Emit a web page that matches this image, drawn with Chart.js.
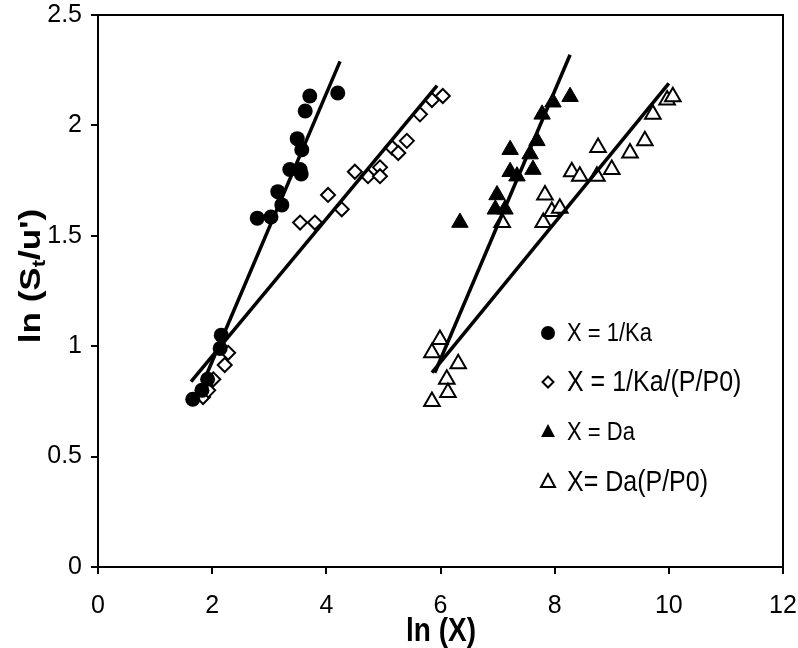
<!DOCTYPE html>
<html>
<head>
<meta charset="utf-8">
<title>ln(St/u') vs ln(X)</title>
<script src="https://cdn.jsdelivr.net/npm/chart.js@4.4.1/dist/chart.umd.min.js"></script>
<style>
  html, body { margin: 0; padding: 0; background: #fff; }
  #wrap { width: 798px; height: 648px; }
</style>
</head>
<body>
<div id="wrap"><canvas id="lnChart" width="798" height="648"></canvas></div>
<script>
// axis ticks
var xTicks = [0, 2, 4, 6, 8, 10, 12];
var yTicks = [0, 0.5, 1, 1.5, 2, 2.5];

// X = 1/Ka  (filled circles)
var kaX = [1.66, 1.82, 1.92, 2.14, 2.16, 2.79, 3.03, 3.15, 3.22, 3.36, 3.49, 3.54, 3.56, 3.57, 3.63, 3.71, 4.20];
var kaY = [0.76, 0.80, 0.85, 0.99, 1.05, 1.58, 1.585, 1.70, 1.64, 1.80, 1.94, 1.80, 1.78, 1.89, 2.065, 2.133, 2.147];

// X = 1/Ka/(P/P0)  (open diamonds)
var kaPX = [1.84, 1.93, 2.02, 2.22, 2.28, 3.54, 3.80, 4.03, 4.27, 4.50, 4.73, 4.94, 4.94, 5.15, 5.26, 5.41, 5.64, 5.85, 6.04];
var kaPY = [0.77, 0.80, 0.85, 0.915, 0.97, 1.56, 1.56, 1.685, 1.62, 1.79, 1.77, 1.81, 1.77, 1.90, 1.875, 1.93, 2.05, 2.115, 2.133];

// X = Da  (filled triangles)
var daX = [6.34, 6.96, 7.13, 6.99, 7.22, 7.34, 7.22, 7.62, 7.57, 7.69, 7.78, 7.97, 8.27];
var daY = [1.56, 1.62, 1.62, 1.685, 1.79, 1.77, 1.89, 1.80, 1.87, 1.93, 2.05, 2.105, 2.13];

// X = Da(P/P0)  (open triangles)
var daPX = [5.85, 5.85, 5.99, 6.11, 6.13, 6.31, 7.08, 7.80, 7.83, 7.95, 8.09, 8.30, 8.44, 8.74, 8.76, 9.00, 9.32, 9.58, 9.72, 9.97, 10.07];
var daPY = [0.75, 0.97, 1.03, 0.85, 0.79, 0.92, 1.56, 1.56, 1.685, 1.61, 1.625, 1.79, 1.77, 1.77, 1.90, 1.80, 1.875, 1.93, 2.05, 2.115, 2.13];

// fitted lines (end points)
var fitKaX = [1.85, 4.24],  fitKaY = [0.84, 2.29];
var fitKaPX = [1.63, 5.94], fitKaPY = [0.84, 2.18];
var fitDaX = [5.90, 8.27],  fitDaY = [0.88, 2.32];
var fitDaPX = [5.85, 10.0], fitDaPY = [0.88, 2.19];

var legendLabels = ['X = 1/Ka', 'X = 1/Ka/(P/P0)', 'X = Da', 'X= Da(P/P0)'];

function pts(xs, ys) {
  return xs.map(function (x, i) { return { x: x, y: ys[i] }; });
}

function fitLine(xs, ys) {
  return {
    type: 'line', data: pts(xs, ys), borderColor: '#000', borderWidth: 3.5,
    pointRadius: 0, fill: false, order: 0
  };
}

var FONT = '"Liberation Sans", Arial, sans-serif';

// draw text stretched like the original picture
function stretchText(ctx, parts, cx, cy, rot, sx, sy) {
  ctx.save();
  ctx.translate(cx, cy);
  ctx.rotate(rot);
  ctx.scale(sx, sy);
  ctx.fillStyle = '#000';
  ctx.textBaseline = 'alphabetic';
  ctx.textAlign = 'left';
  var total = 0;
  parts.forEach(function (p) { ctx.font = p.font; total += ctx.measureText(p.t).width; });
  var x = -total / 2;
  parts.forEach(function (p) {
    ctx.font = p.font;
    ctx.fillText(p.t, x, p.dy || 0);
    x += ctx.measureText(p.t).width;
  });
  ctx.restore();
}

function marker(ctx, kind, x, y) {
  ctx.save();
  ctx.fillStyle = '#000';
  ctx.strokeStyle = '#000';
  ctx.lineWidth = 2;
  ctx.beginPath();
  if (kind === 'circle') {
    ctx.arc(x, y, 7, 0, Math.PI * 2);
    ctx.fill();
  } else if (kind === 'diamond') {
    ctx.moveTo(x, y - 5.5); ctx.lineTo(x + 5.5, y); ctx.lineTo(x, y + 5.5); ctx.lineTo(x - 5.5, y);
    ctx.closePath();
    ctx.fillStyle = '#fff'; ctx.fill(); ctx.stroke();
  } else {
    ctx.moveTo(x, y - 8); ctx.lineTo(x + 7, y + 5); ctx.lineTo(x - 7, y + 5);
    ctx.closePath();
    if (kind === 'tri') { ctx.fill(); } else { ctx.fillStyle = '#fff'; ctx.fill(); ctx.stroke(); }
  }
  ctx.restore();
}

// no extra room for overflowing tick labels, the layout padding does it
function noOverflow(s) {
  s.paddingLeft = 0; s.paddingRight = 0; s.paddingTop = 0; s.paddingBottom = 0;
}

var decorPlugin = {
  id: 'decor',
  afterDraw: function (chart) {
    var ctx = chart.ctx, a = chart.chartArea;
    // top and right frame
    ctx.save();
    ctx.strokeStyle = '#000';
    ctx.lineWidth = 2;
    ctx.beginPath();
    ctx.moveTo(a.left, a.top); ctx.lineTo(a.right, a.top); ctx.lineTo(a.right, a.bottom);
    ctx.stroke();
    ctx.restore();

    // axis titles
    var b = 'bold 28px ' + FONT;
    stretchText(ctx, [{ t: 'ln (X)', font: b }], 441, 641, 0, 1, 1.2);
    stretchText(ctx, [
      { t: 'ln (S', font: b },
      { t: 't', font: 'bold 18px ' + FONT, dy: 5 },
      { t: "/u')", font: b }
    ], 40, 276, -Math.PI / 2, 1.25, 1.05);

    // legend
    var kinds = ['circle', 'diamond', 'tri', 'triOpen'];
    var rows = [333, 382, 432, 482];
    var sizes = [22, 25, 22, 25];
    kinds.forEach(function (k, i) {
      marker(ctx, k, 548, rows[i]);
      ctx.save();
      ctx.translate(567, rows[i]);
      ctx.scale(1, 1.15);
      ctx.font = sizes[i] + 'px ' + FONT;
      ctx.fillStyle = '#000';
      ctx.textAlign = 'left';
      ctx.textBaseline = 'middle';
      ctx.fillText(legendLabels[i], 0, 1);
      ctx.restore();
    });
  }
};

var ctx = document.getElementById('lnChart').getContext('2d');
var chart = new Chart(ctx, {
  type: 'scatter',
  data: {
    datasets: [
      fitLine(fitKaX, fitKaY),
      fitLine(fitKaPX, fitKaPY),
      fitLine(fitDaX, fitDaY),
      fitLine(fitDaPX, fitDaPY),
      {
        label: legendLabels[0], data: pts(kaX, kaY), pointStyle: 'circle',
        pointRadius: 7.5, backgroundColor: '#000', borderColor: '#000', borderWidth: 0, order: 1
      },
      {
        label: legendLabels[1], data: pts(kaPX, kaPY), pointStyle: 'rectRot',
        pointRadius: 7, backgroundColor: '#fff', borderColor: '#000', borderWidth: 2, order: 1
      },
      {
        label: legendLabels[2], data: pts(daX, daY), pointStyle: 'triangle',
        pointRadius: 9.5, backgroundColor: '#000', borderColor: '#000', borderWidth: 1, order: 1
      },
      {
        label: legendLabels[3], data: pts(daPX, daPY), pointStyle: 'triangle',
        pointRadius: 9, backgroundColor: '#fff', borderColor: '#000', borderWidth: 2, order: 1
      }
    ]
  },
  options: {
    responsive: false,
    animation: false,
    events: [],
    layout: { padding: { top: 15, right: 15, left: 0, bottom: 0 } },
    plugins: { legend: { display: false }, tooltip: { enabled: false } },
    scales: {
      x: {
        type: 'linear', min: 0, max: 12,
        afterFit: function (s) { s.height = 81; noOverflow(s); },
        afterBuildTicks: function (s) { s.ticks = xTicks.map(function (v) { return { value: v }; }); },
        ticks: { color: '#000', font: { family: FONT, size: 25 }, padding: 17, maxRotation: 0,
                 callback: function (v) { return String(v); } },
        grid: { display: true, drawOnChartArea: false, drawTicks: true, tickLength: 7, color: '#000', lineWidth: 2 },
        border: { display: true, color: '#000', width: 2 }
      },
      y: {
        type: 'linear', min: 0, max: 2.5,
        afterFit: function (s) { s.width = 98; noOverflow(s); },
        afterBuildTicks: function (s) { s.ticks = yTicks.map(function (v) { return { value: v }; }); },
        ticks: { color: '#000', font: { family: FONT, size: 25 }, padding: 9,
                 callback: function (v) { return String(v); } },
        grid: { display: true, drawOnChartArea: false, drawTicks: true, tickLength: 7, color: '#000', lineWidth: 2 },
        border: { display: true, color: '#000', width: 2 }
      }
    }
  },
  plugins: [decorPlugin]
});
</script>
</body>
</html>
